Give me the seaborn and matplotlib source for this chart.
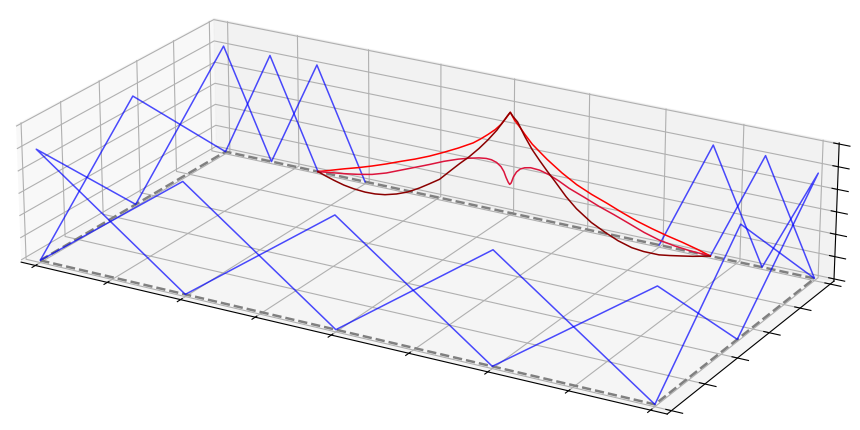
import numpy as np
import matplotlib
matplotlib.use("Agg")
import matplotlib.pyplot as plt
import seaborn as sns

sns.reset_orig()
blue, red, crimson, darkred, gray = sns.color_palette(["blue", "red", "crimson", "darkred", "gray"])

# Closed outline on the floor
rim_x = [0, 4, 4, 0, 0]
rim_y = [0, 0, 1, 1, 0]
rim_z = [0, 0, 0, 0, 0]

# Blue zigzags round the perimeter
a_x = [10/3, 11/3, 4, 4, 4, 3, 2, 1, 0, 0, 0, 1/3, 2/3]
a_y = [1, 1, 1, 0.5, 0, 0, 0, 0, 0, 0.5, 1, 1, 1]
a_z = [0, 1, 0, 1, 0, 1, 0, 1, 0, 1, 0, 1, 0]

b1_x = [3, 10/3, 11/3, 4, 4, 4, 3, 2, 1, 0, 0, 0, 1/3, 2/3, 1]
b1_y = [1, 1, 1, 1, 0.5, 0, 0, 0, 0, 0, 0.5, 1, 1, 1, 1]
b1_z = [0, 1, 0, 0.94, 0, 1, 0, 1, 0, 1, 0, 1, 0, 1, 0]

# Red curves along the back edge
top_x = [.667, .75, .85, .95, 1.05, 1.15, 1.25, 1.35, 1.45, 1.55, 1.65, 1.75, 1.8, 1.85, 1.9, 1.94, 1.97, 2,
         2.03, 2.07, 2.1, 2.15, 2.2, 2.25, 2.35, 2.45, 2.55, 2.65, 2.75, 2.85, 2.95, 3.05, 3.15, 3.25, 3.333]
top_z = [0, .035, .078, .118, .162, .21, .262, .312, .368, .432, .50, .575, .625, .68, .74, .80, .86, .925,
         .86, .80, .75, .675, .62, .565, .47, .39, .33, .28, .225, .175, .135, .10, .07, .035, 0]
mid_x = [.667, .75, .85, .95, 1.05, 1.15, 1.25, 1.35, 1.45, 1.55, 1.65, 1.72, 1.79, 1.84, 1.875, 1.91, 1.94,
         1.96, 1.975, 1.99, 2, 2.01, 2.025, 2.045, 2.07, 2.1, 2.14, 2.2, 2.26, 2.33, 2.4, 2.5, 2.6, 2.7, 2.8,
         2.9, 3, 3.1, 3.2, 3.333]
mid_z = [0, .015, .033, .055, .083, .125, .18, .235, .29, .348, .397, .425, .448, .457, .455, .44, .41,
         .37, .32, .28, .263, .28, .34, .39, .425, .445, .457, .452, .43, .39, .342, .29, .235, .188, .137,
         .085, .045, .022, .008, 0]
low_x = [.667, .72, .78, .85, .92, 1, 1.07, 1.14, 1.22, 1.3, 1.38, 1.45, 1.52, 1.6, 1.66, 1.72, 1.79, 1.85,
         1.91, 1.95, 1.98, 2, 2.02, 2.05, 2.1, 2.15, 2.2, 2.25, 2.3, 2.38, 2.45, 2.55, 2.65, 2.73, 2.82, 2.9,
         3, 3.07, 3.15, 3.22, 3.28, 3.333]
low_z = [0, -.025, -.05, -.075, -.09, -.098, -.095, -.082, -.052, -.01, .05, .11, .172, .28, .36, .435, .535, .63,
         .736, .82, .885, .925, .89, .85, .73, .625, .54, .46, .385, .26, .17, .073, .005, -.042, -.078, -.09,
         -.09, -.075, -.055, -.037, -.018, 0]

fig = plt.figure(figsize=(8.6, 4.3), dpi=100)
ax = fig.add_axes([0.012, -0.438, 0.94, 1.88], projection="3d")
kw = dict(clip_on=False)
ax.plot(rim_x, rim_y, rim_z, color=gray, lw=1.8, ls="--", **kw)
ax.plot(a_x, a_y, a_z, color=blue, lw=1.1, alpha=0.7, **kw)
ax.plot(b1_x, b1_y, b1_z, color=blue, lw=1.1, alpha=0.7, **kw)
ax.plot(top_x, np.ones(len(top_x)), top_z, color=red, lw=1.1, **kw)
ax.plot(mid_x, np.ones(len(mid_x)), mid_z, color=crimson, lw=1.1, **kw)
ax.plot(low_x, np.ones(len(low_x)), low_z, color=darkred, lw=1.1, **kw)

ax.set_xlim(-0.1, 4.1)
ax.set_ylim(-0.025, 1.025)
ax.set_zlim(-0.02, 1.21)
ax.set_xticks(np.arange(0, 4.01, 0.5))
ax.set_yticks(np.arange(0, 1.01, 0.2))
ax.set_zticks(np.arange(0, 1.21, 0.2))
ax.set_xticklabels([])
ax.set_yticklabels([])
ax.set_zticklabels([])
ax.view_init(elev=22, azim=-60)
ax.set_box_aspect((4, 2, 0.81), zoom=1)
fig.savefig("out.png", dpi=100)
